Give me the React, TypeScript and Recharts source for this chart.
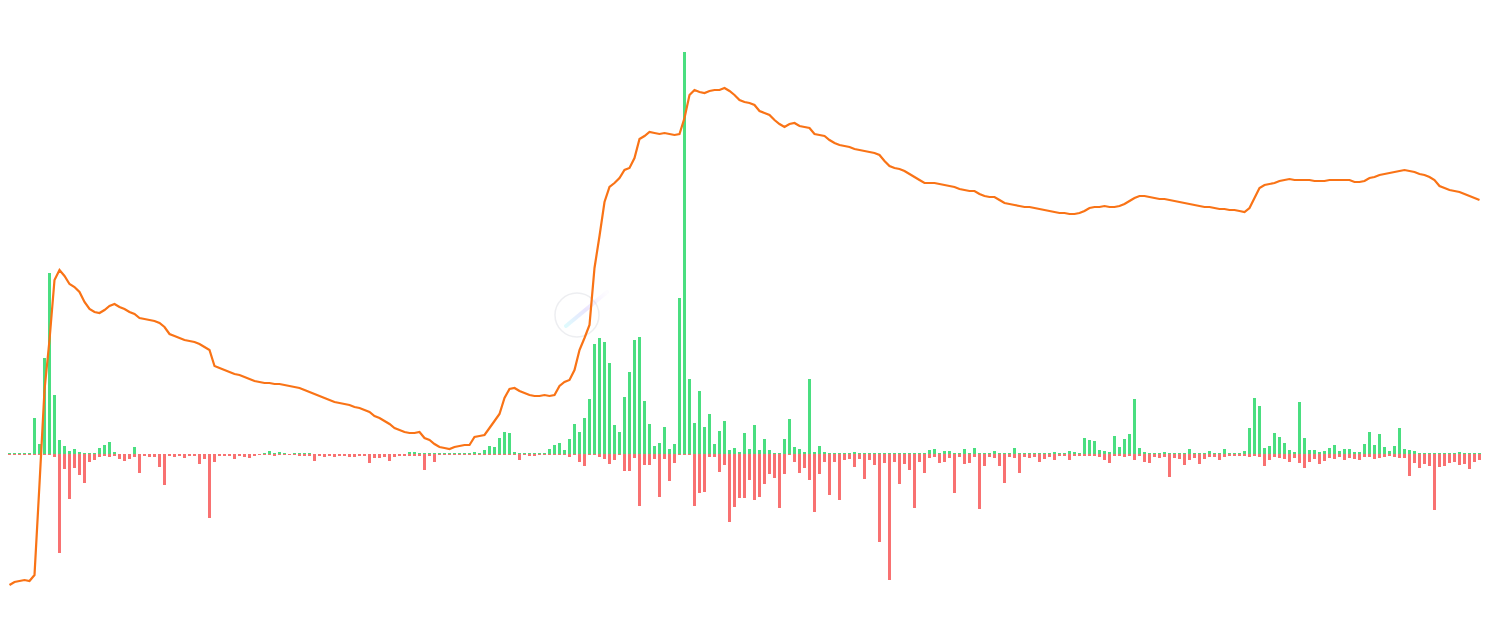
import React from "react";
import { Bar, ComposedChart, Line, XAxis, YAxis } from "recharts";

// price line, one value per 5px time bucket
const price = [
  48, 51, 52, 53, 52, 58, 149, 243, 293, 353,
  363, 357, 349, 346, 341, 331, 324, 321, 320, 323,
  327, 329, 326, 324, 321, 319, 315, 314, 313, 312,
  310, 306, 299, 297, 295, 293, 292, 291, 289, 286,
  283, 267, 265, 263, 261, 259, 258, 256, 254, 252,
  251, 250, 250, 249, 249, 248, 247, 246, 245, 243,
  241, 239, 237, 235, 233, 231, 230, 229, 228, 226,
  225, 223, 221, 217, 215, 212, 209, 205, 203, 201,
  200, 200, 201, 195, 193, 189, 186, 185, 184, 186,
  187, 188, 188, 196, 197, 198, 205, 212, 219, 235,
  244, 245, 242, 240, 238, 237, 237, 238, 237, 238,
  247, 251, 253, 263, 283, 295, 308, 365, 397, 431,
  446, 450, 455, 463, 465, 475, 494, 497, 501, 500,
  499, 500, 499, 498, 499, 515, 538, 543, 541, 540,
  542, 543, 543, 545, 542, 538, 533, 531, 530, 528,
  522, 520, 518, 513, 509, 506, 509, 510, 507, 506,
  505, 499, 498, 497, 493, 490, 488, 487, 486, 484,
  483, 482, 481, 480, 478, 472, 467, 465, 464, 462,
  459, 456, 453, 450, 450, 450, 449, 448, 447, 446,
  444, 443, 442, 442, 439, 437, 436, 436, 433, 430,
  429, 428, 427, 426, 426, 425, 424, 423, 422, 421,
  420, 420, 419, 419, 420, 422, 425, 426, 426, 427,
  426, 426, 427, 429, 432, 435, 437, 437, 436, 435,
  434, 434, 433, 432, 431, 430, 429, 428, 427, 426,
  426, 425, 424, 424, 423, 423, 422, 421, 425, 435,
  445, 448, 449, 450, 452, 453, 454, 453, 453, 453,
  453, 452, 452, 452, 453, 453, 453, 453, 453, 451,
  451, 452, 455, 456, 458, 459, 460, 461, 462, 463,
  462, 461, 459, 458, 456, 453, 447, 445, 443, 442,
  441, 439, 437, 435, 433,
];

const buyVolume = [
  1, 1, 1, 1, 1, 36, 10, 96, 181, 59,
  14, 8, 3, 5, 2, 1, 1, 1, 6, 9,
  12, 2, 0, 0, 0, 7, 0, 0, 0, 0,
  0, 0, 0, 0, 0, 0, 0, 0, 0, 0,
  0, 0, 0, 0, 0, 0, 0, 0, 0, 0,
  0, 1, 3, 1, 2, 1, 0, 1, 1, 1,
  1, 0, 0, 0, 0, 0, 0, 0, 0, 0,
  0, 0, 0, 0, 0, 0, 0, 0, 0, 0,
  2, 2, 1, 1, 1, 1, 1, 1, 1, 1,
  1, 1, 1, 2, 1, 4, 8, 7, 16, 22,
  21, 2, 1, 1, 1, 1, 1, 1, 5, 9,
  11, 4, 15, 30, 22, 36, 55, 110, 116, 112,
  91, 29, 22, 57, 82, 114, 117, 53, 30, 8,
  11, 27, 5, 10, 156, 402, 75, 31, 63, 27,
  40, 10, 23, 33, 4, 6, 2, 21, 5, 29,
  4, 15, 4, 1, 1, 15, 35, 7, 5, 2,
  75, 2, 8, 2, 1, 1, 1, 1, 1, 2,
  1, 1, 1, 1, 1, 1, 1, 1, 1, 1,
  1, 1, 1, 1, 4, 5, 1, 3, 3, 1,
  1, 5, 1, 6, 1, 1, 1, 3, 1, 1,
  1, 6, 1, 1, 1, 1, 1, 1, 1, 2,
  1, 1, 3, 2, 1, 16, 14, 13, 4, 3,
  2, 18, 7, 15, 20, 55, 6, 2, 1, 1,
  1, 2, 1, 1, 1, 1, 5, 1, 1, 1,
  3, 1, 1, 5, 1, 1, 1, 3, 26, 56,
  48, 6, 8, 21, 17, 11, 4, 2, 52, 16,
  4, 4, 2, 3, 6, 9, 3, 5, 5, 2,
  2, 10, 22, 9, 20, 7, 3, 8, 26, 5,
  4, 3, 1, 1, 1, 1, 1, 1, 1, 1,
  2, 1, 1, 1, 1,
];

const sellVolume = [
  1, 1, 1, 1, 1, 1, 1, 1, 1, 3,
  99, 15, 45, 14, 21, 29, 8, 6, 3, 2,
  3, 2, 5, 7, 5, 3, 19, 2, 3, 3,
  13, 31, 2, 3, 2, 4, 2, 2, 10, 5,
  64, 8, 2, 2, 2, 5, 2, 3, 4, 2,
  1, 1, 1, 2, 1, 1, 1, 1, 2, 2,
  2, 7, 2, 3, 2, 3, 2, 2, 3, 3,
  2, 2, 9, 4, 4, 3, 7, 3, 2, 2,
  2, 2, 2, 16, 2, 8, 1, 1, 1, 1,
  1, 1, 1, 1, 1, 1, 1, 1, 1, 1,
  1, 1, 6, 1, 2, 2, 1, 1, 1, 1,
  1, 1, 3, 1, 8, 12, 1, 1, 3, 5,
  10, 6, 1, 17, 17, 4, 52, 11, 11, 5,
  43, 5, 27, 9, 1, 1, 1, 52, 39, 38,
  3, 3, 18, 11, 68, 53, 44, 44, 26, 46,
  43, 30, 20, 24, 54, 20, 1, 8, 19, 14,
  26, 58, 20, 8, 41, 8, 46, 6, 5, 13,
  5, 25, 6, 11, 88, 9, 126, 8, 30, 10,
  16, 54, 8, 19, 4, 3, 9, 8, 4, 39,
  3, 10, 9, 3, 55, 12, 3, 4, 12, 29,
  3, 4, 19, 3, 4, 3, 8, 5, 3, 6,
  2, 2, 6, 2, 2, 2, 2, 2, 3, 6,
  9, 2, 2, 3, 2, 6, 2, 8, 9, 3,
  4, 3, 23, 4, 5, 11, 6, 4, 10, 5,
  3, 3, 6, 3, 2, 2, 2, 2, 3, 2,
  3, 12, 6, 3, 4, 5, 8, 4, 9, 14,
  8, 5, 10, 7, 4, 5, 3, 6, 4, 5,
  6, 3, 3, 5, 4, 3, 2, 3, 4, 4,
  22, 9, 14, 10, 12, 56, 13, 12, 9, 8,
  11, 10, 15, 8, 6,
];

const data = price.map((p, i) => ({
  t: i,
  price: p,
  buy: buyVolume[i],
  sell: -sellVolume[i],
}));

function Watermark() {
  return (
    <svg width={1490} height={633} style={{ position: "absolute", left: 0, top: 0 }}>
      <defs>
        <linearGradient id="comet" x1="0" y1="1" x2="1" y2="0">
          <stop offset="0%" stopColor="#a5f3fc" />
          <stop offset="50%" stopColor="#c4b5fd" />
          <stop offset="100%" stopColor="#e9d5ff" stopOpacity={0.2} />
        </linearGradient>
      </defs>
      <circle cx={577} cy={315} r={22} fill="none" stroke="#e5e7eb" strokeWidth={1.5} opacity={0.7} />
      <line x1={566} y1={326} x2={607} y2={292} stroke="url(#comet)" strokeWidth={4} strokeLinecap="round" opacity={0.35} />
    </svg>
  );
}

export default function App() {
  return (
    <div style={{ position: "absolute", left: 0, top: 0, width: 1490, height: 633 }}>
      <Watermark />
      <div style={{ position: "absolute", left: 0, top: 0 }}>
        <ComposedChart
          width={1490}
          height={633}
          data={data}
          stackOffset="sign"
          margin={{ top: 0, right: 8, bottom: 0, left: 7 }}
        >
          <XAxis dataKey="t" hide />
          <YAxis yAxisId="vol" hide domain={[-179, 454]} allowDataOverflow />
          <YAxis yAxisId="px" hide domain={[0, 633]} allowDataOverflow />
          <Bar yAxisId="vol" dataKey="buy" stackId="v" fill="#4ade80" barSize={3} isAnimationActive={false} />
          <Bar yAxisId="vol" dataKey="sell" stackId="v" fill="#f87171" barSize={3} isAnimationActive={false} />
          <Line
            yAxisId="px"
            dataKey="price"
            type="linear"
            stroke="#f97316"
            strokeWidth={2.2}
            dot={false}
            isAnimationActive={false}
          />
        </ComposedChart>
      </div>
    </div>
  );
}
